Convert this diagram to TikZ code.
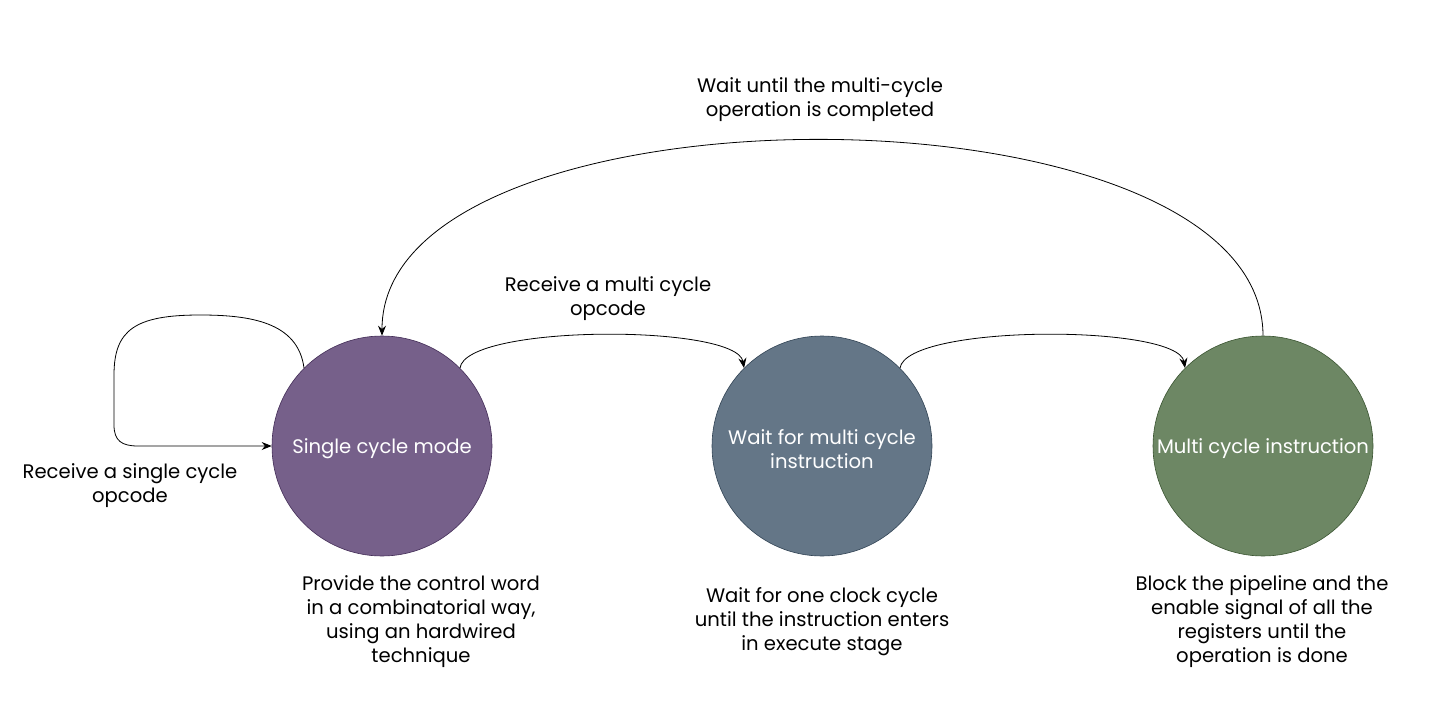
\documentclass[tikz,border=0pt]{standalone}
\usepackage{fontspec}
\setmainfont{Poppins}
\usetikzlibrary{arrows.meta}
\definecolor{purplefill}{HTML}{76608A}
\definecolor{purpleline}{HTML}{432D57}
\definecolor{bluefill}{HTML}{647687}
\definecolor{blueline}{HTML}{314354}
\definecolor{greenfill}{HTML}{6D8764}
\definecolor{greenline}{HTML}{3A5431}
\tikzset{
  txtfont/.style={font=\fontsize{19.6}{24}\selectfont},
  state/.style={circle, minimum size=220pt, inner sep=0pt, line width=0.6pt},
  intxt/.style={align=center, text=white, inner sep=0pt, yshift=-3pt, txtfont},
  lbl/.style={align=center, text=black, inner sep=0pt, yshift=-3pt, txtfont},
  conn/.style={draw=black, line width=0.8pt, -{Stealth[length=10pt,width=8pt]}}
}
\begin{document}
\begin{tikzpicture}[x=1pt,y=-1pt]
\useasboundingbox (0,0) rectangle (1432,722);
\node[state, fill=purplefill, draw=purpleline] (s) at (382,446) {};
\node[state, fill=bluefill, draw=blueline] (w) at (822,446) {};
\node[state, fill=greenfill, draw=greenline] (m) at (1263,446) {};
\node[intxt] (st) at (s.center) {Single cycle mode};
\node[intxt] (wt) at (w.center) {Wait for multi cycle\\instruction};
\node[intxt] (mt) at (m.center) {Multi cycle instruction};

\node[lbl] (ls) at (130,483) {Receive a single cycle\\opcode};
\node[lbl] (lmc) at (608,296) {Receive a multi cycle\\opcode};
\node[lbl] (lw) at (820,97) {Wait until the multi-cycle\\operation is completed};

\node[lbl] (ds) at (421,619) {Provide the control word\\in a combinatorial way,\\using an hardwired\\technique};
\node[lbl] (dw) at (822,619) {Wait for one clock cycle\\until the instruction enters\\in execute stage};
\node[lbl] (dm) at (1262,619) {Block the pipeline and the\\enable signal of all the\\registers until the\\operation is done};

\coordinate (la) at (200,315);
\draw[conn] (s.135) .. controls (298,322) and (250,315) .. (la)
  .. controls (135,315) and (114,330) .. (114,375) -- (114,425)
  .. controls (114,441) and (122,446) .. (138,446) -- (s.west);
\draw[conn] (s.45) .. controls (466,324) and (737,324) .. (w.135);
\draw[conn] (w.45) .. controls (907,324) and (1178,324) .. (m.135);
\draw[conn] (m.north) .. controls (1263,75) and (382,75) .. (s.north);
\end{tikzpicture}
\end{document}
